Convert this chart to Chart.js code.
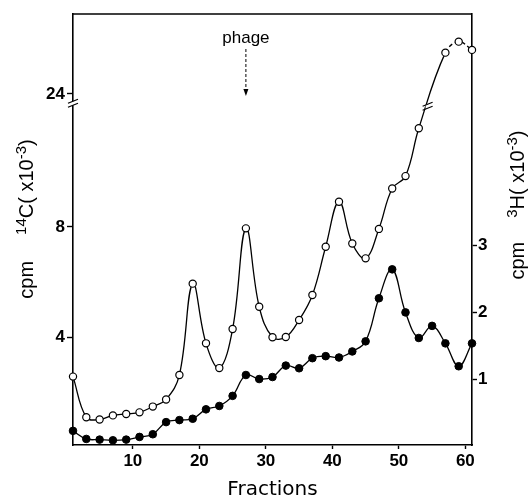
<!DOCTYPE html>
<html><head><meta charset="utf-8">
<script src="https://cdn.jsdelivr.net/npm/chart.js@4/dist/chart.umd.min.js"></script>
<style>html,body{margin:0;padding:0;background:#fff}canvas{display:block}</style>
</head><body>
<canvas id="c" width="531" height="501"></canvas>
<script>
// ---- data ----
const fractions = [1,3,5,7,9,11,13,15,17,19,21,23,25,27,29,31,33,35,37,39,41,43,45,47,49,51,53,55,57,59,61];
// 14C cpm (x10^-3), open circles (left axis, broken above ~12.5)
const c14 = [2.56,1.08,1.0,1.15,1.2,1.26,1.47,1.73,2.62,5.94,3.77,2.87,4.29,7.95,5.1,3.99,4.0,4.62,5.53,7.28,8.92,7.4,6.86,7.93,9.4,9.85,11.59,null,25.5,25.9,25.6];
// 3H cpm (x10^-3), filled circles (right axis)
const h3 = [0.24,0.12,0.11,0.10,0.11,0.15,0.19,0.37,0.40,0.42,0.56,0.61,0.76,1.07,1.01,1.04,1.21,1.17,1.32,1.35,1.33,1.42,1.57,2.21,2.64,2.0,1.62,1.80,1.54,1.20,1.54];
const xTicks = [10,20,30,40,50,60];
const leftTicks = [4,8,24];
const rightTicks = [1,2,3];
const markerLabel = 'phage';
const markerFraction = 27;

// axis break on the 14C scale: values above the break are shifted down
const BREAK_AT = 12.5;
const BREAK_SHIFT = 11.16;
function toAxis(v){ return v == null ? null : (v > 20 ? v - BREAK_SHIFT : v); }

const tickFont = {family:'Liberation Sans', size:17, weight:'bold'};

function drawRich(ctx, cx, cy, segs){
  ctx.save();
  ctx.translate(cx, cy);
  ctx.rotate(-Math.PI/2);
  ctx.textBaseline = 'alphabetic';
  ctx.textAlign = 'left';
  let w = 0;
  segs.forEach(s => { ctx.font = s.s + 'px "Liberation Sans"'; w += ctx.measureText(s.t).width + (s.g||0); });
  let x = -w/2;
  segs.forEach(s => {
    ctx.font = s.s + 'px "Liberation Sans"';
    ctx.fillText(s.t, x, -(s.r||0));
    x += ctx.measureText(s.t).width + (s.g||0);
  });
  ctx.restore();
}

const decor = {
  id:'decor',
  afterDraw(chart){
    const ctx = chart.ctx, a = chart.chartArea;
    const xs = chart.scales.x, ys = chart.scales.y;
    ctx.save();
    ctx.fillStyle = '#000'; ctx.strokeStyle = '#000';
    // top frame line
    ctx.lineWidth = 1.6;
    ctx.beginPath(); ctx.moveTo(a.left, a.top); ctx.lineTo(a.right, a.top); ctx.stroke();

    // axis break on left axis
    const by = ys.getPixelForValue(BREAK_AT);
    const drawBreak = (x, y) => {
      ctx.fillStyle = '#fff';
      ctx.fillRect(x-2, y-2, 4, 4);
      ctx.strokeStyle = '#000'; ctx.lineWidth = 1.2;
      [-2, 2].forEach(d => {
        ctx.beginPath(); ctx.moveTo(x-5, y+d+2); ctx.lineTo(x+5, y+d-2); ctx.stroke();
      });
    };
    drawBreak(a.left, by);
    // break mark on the 14C curve where it crosses the break
    const meta = chart.getDatasetMeta(0).data;
    const pts = meta.filter(p => !p.skip && !isNaN(p.y));
    for (let i=0;i<pts.length-1;i++){
      const p0 = pts[i], p1 = pts[i+1];
      if ((p0.y - by) * (p1.y - by) < 0){
        const t = (p0.y - by)/(p0.y - p1.y);
        drawBreak(p0.x + t*(p1.x-p0.x), by+3);
        break;
      }
    }

    // phage arrow
    const ax = xs.getPixelForValue(markerFraction);
    ctx.fillStyle = '#000';
    ctx.font = '17px "Liberation Sans"';
    ctx.textAlign = 'center'; ctx.textBaseline = 'alphabetic';
    ctx.fillText(markerLabel, ax, 43);
    ctx.lineWidth = 1; ctx.setLineDash([3,2]);
    ctx.beginPath(); ctx.moveTo(ax, 49); ctx.lineTo(ax, 90); ctx.stroke();
    ctx.setLineDash([]);
    ctx.beginPath(); ctx.moveTo(ax-2.5, 89); ctx.lineTo(ax+2.5, 89); ctx.lineTo(ax, 96); ctx.closePath(); ctx.fill();

    // axis titles
    ctx.font = '20px "DejaVu Sans"';
    ctx.textAlign = 'center'; ctx.textBaseline = 'middle';
    ctx.fillText('Fractions', (a.left + a.right)/2, 490);

    drawRich(ctx, 33, 219, [
      {t:'cpm', s:20, g:26},
      {t:'14', s:15, r:7},
      {t:'C( x10', s:20},
      {t:'-3', s:15, r:7},
      {t:')', s:20}
    ]);
    drawRich(ctx, 524, 205, [
      {t:'cpm', s:20, g:24},
      {t:'3', s:15, r:7},
      {t:'H( x10', s:20},
      {t:'-3', s:15, r:7},
      {t:')', s:20}
    ]);
    ctx.restore();
  }
};

new Chart(document.getElementById('c'), {
  type:'line',
  data:{ datasets:[
    { label:'14C', data: fractions.map((f,i)=>({x:f, y:toAxis(c14[i])})), yAxisID:'y',
      borderColor:'#000', borderWidth:1.3, tension:0.4, spanGaps:true, clip:false,
      pointRadius:3.6, pointBackgroundColor:'#fff', pointBorderColor:'#000', pointBorderWidth:1.2,
      segment:{ borderDash: c => c.p0DataIndex >= 28 ? [4,3] : undefined } },
    { label:'3H', data: fractions.map((f,i)=>({x:f, y:h3[i]})), yAxisID:'y1',
      borderColor:'#000', borderWidth:1.3, tension:0.4, clip:false,
      pointRadius:3.8, pointBackgroundColor:'#000', pointBorderColor:'#000', pointBorderWidth:1 }
  ]},
  options:{
    responsive:false, animation:false, devicePixelRatio:1,
    layout:{padding:{top:14, left:0, right:0, bottom:0}},
    plugins:{legend:{display:false}, tooltip:{enabled:false}},
    scales:{
      x:{ type:'linear', min:1, max:61,
        afterBuildTicks: s => { s.ticks = xTicks.map(v=>({value:v})); },
        afterFit: s => { s.height = 56; },
        grid:{drawOnChartArea:false, tickLength:4, tickColor:'#000', tickWidth:1.4},
        border:{color:'#000', width:1.6},
        ticks:{color:'#000', font:tickFont, padding:2, maxRotation:0, autoSkip:false} },
      y:{ position:'left', min:0.073, max:15.745,
        afterBuildTicks: s => { s.ticks = leftTicks.map(v=>({value:toAxis(v)})); },
        afterFit: s => { s.width = 73; },
        grid:{drawOnChartArea:false, tickLength:6, tickColor:'#000', tickWidth:1.4},
        border:{color:'#000', width:1.6},
        ticks:{color:'#000', font:tickFont, padding:2, autoSkip:false,
          callback:(v,i)=>String(leftTicks[i])} },
      y1:{ position:'right', min:0.03, max:6.434,
        afterBuildTicks: s => { s.ticks = rightTicks.map(v=>({value:v})); },
        afterFit: s => { s.width = 59; },
        grid:{drawOnChartArea:false, tickLength:5, tickColor:'#000', tickWidth:1.4},
        border:{color:'#000', width:1.6},
        ticks:{color:'#000', font:tickFont, padding:1, autoSkip:false,
          callback:(v,i)=>String(rightTicks[i])} }
    }
  },
  plugins:[decor]
});
</script>
</body></html>
